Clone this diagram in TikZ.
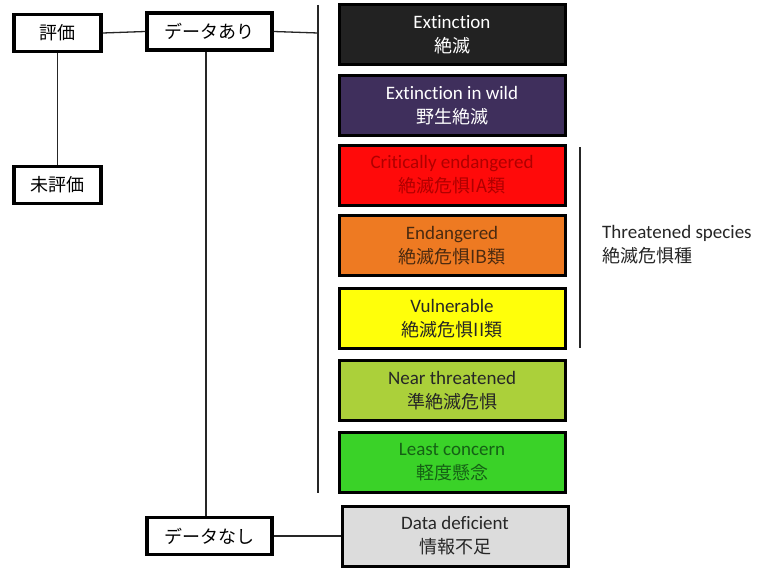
\documentclass[tikz,border=0pt]{standalone}
\usepackage{fontspec}
\setmainfont{Carlito}[Ligatures=NoCommon]
\newfontfamily\jp{Noto Sans CJK JP}
\begin{document}
\begin{tikzpicture}[x=1pt,y=-1pt,
  lbox/.style={draw=black,line width=3.5pt,fill=white,minimum width=87pt,minimum height=37pt,inner sep=0pt,font=\jp\fontsize{18}{20}\selectfont},
  wbox/.style={lbox,minimum width=125pt},
  cbox/.style={draw=black,line width=3pt,minimum width=226pt,minimum height=60pt,inner sep=0pt,align=center,font=\fontsize{19}{24}\selectfont},
  conn/.style={line width=1.3pt,draw=black!85}
]
\newcommand{\jpl}[1]{{\jp\fontsize{18}{24}\selectfont #1}}
\definecolor{cEX}{HTML}{222222}
\definecolor{cEW}{HTML}{3F2F5C}
\definecolor{cCR}{HTML}{FF0A0A}
\definecolor{cEN}{HTML}{EE7A22}
\definecolor{cVU}{HTML}{FFFF0A}
\definecolor{cNT}{HTML}{ABD03A}
\definecolor{cLC}{HTML}{3AD228}
\definecolor{cDD}{HTML}{DCDCDC}
\definecolor{tCR}{HTML}{B00000}
\definecolor{tEN}{HTML}{4A2A10}
\definecolor{tLC}{HTML}{156015}
\useasboundingbox[fill=white] (0,0) rectangle (759,567);

\node[lbox] (hyoka) at (57.5,33) {評価};
\node[wbox] (ari) at (209.5,31.5) {データあり};
\node[lbox] (mihyoka) at (57.5,185) {未評価};
\node[wbox] (nashi) at (209.5,536) {データなし};

\node[cbox,fill=cEX,text=white] (ex) at (452,35) {Extinction\\\jpl{絶滅}};
\node[cbox,fill=cEW,text=white] (ew) at (452,105.5) {Extinction in wild\\\jpl{野生絶滅}};
\node[cbox,fill=cCR,text=tCR] (cr) at (452,175) {Critically endangered\\\jpl{絶滅危惧IA類}};
\node[cbox,fill=cEN,text=tEN] (en) at (452,245.5) {Endangered\\\jpl{絶滅危惧IB類}};
\node[cbox,fill=cVU,text=black!85] (vu) at (452,318.5) {Vulnerable\\\jpl{絶滅危惧II類}};
\node[cbox,fill=cNT,text=black!85] (nt) at (452,390.5) {Near threatened\\\jpl{準絶滅危惧}};
\node[cbox,fill=cLC,text=tLC] (lc) at (452,462.5) {Least concern\\\jpl{軽度懸念}};
\node[cbox,fill=cDD,text=black!85] (dd) at (455,536) {Data deficient\\\jpl{情報不足}};

\node[anchor=west,align=left,font=\fontsize{19}{24}\selectfont,text=black!85,inner sep=0pt] (thr) at (602,245) {Threatened species\\\jpl{絶滅危惧種}};

\coordinate (vtop) at (318,5);
\coordinate (vbot) at (318,493);
\coordinate (vmid) at (318,33);
\coordinate (btop) at (580,147);
\coordinate (bbot) at (580,348);

\draw[conn] (hyoka.east) -- (ari.west);
\draw[conn] (hyoka.south) -- (mihyoka.north);
\draw[conn] (ari.south -| 206,0) -- (nashi.north -| 206,0);
\draw[conn] (ari.east) -- (vmid);
\draw[conn] (vtop) -- (vbot);
\draw[conn] (btop) -- (bbot);
\draw[conn] (nashi.east) -- (dd.west);
\end{tikzpicture}
\end{document}
